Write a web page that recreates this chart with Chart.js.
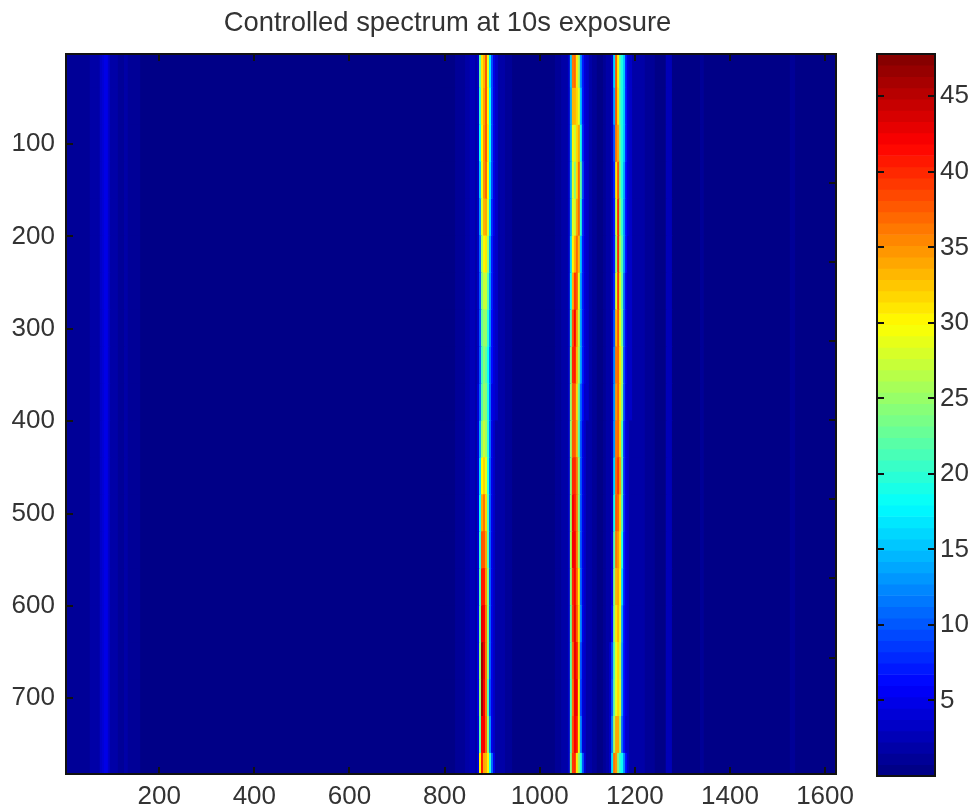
<!DOCTYPE html>
<html>
<head>
<meta charset="utf-8">
<title>Controlled spectrum at 10s exposure</title>
<script src="https://cdn.jsdelivr.net/npm/chart.js@4"></script>
<style>
  html, body { margin: 0; background: #fff; }
  canvas { position: absolute; top: 0; }
  #spectrum { left: 0; }
  #colorbar { left: 840px; }
</style>
</head>
<body>
<canvas id="spectrum" width="895" height="810"></canvas>
<canvas id="colorbar" width="135" height="810"></canvas>
<script>
const titleText = "Controlled spectrum at 10s exposure";
const xTicks = [200, 400, 600, 800, 1000, 1200, 1400, 1600];
const yTicks = [100, 200, 300, 400, 500, 600, 700];
const cbTicks = [5, 10, 15, 20, 25, 30, 35, 40, 45];
const xRange = [4, 1623];
const yRange = [2.5, 782];
const cbRange = [0, 47.8];

// centre of each image row
const rows = [20, 60, 100, 140, 180, 220, 260, 300, 340, 380, 420, 460, 500, 540, 580, 620, 660, 700, 740, 780];

// background level, same on all rows: column start and value
const bgStart = [4, 54, 71, 75, 80, 84, 88, 92, 96, 103, 113, 126, 134, 160, 790, 822, 843, 853, 910, 916, 927, 942, 1011, 1032, 1045, 1101, 1110, 1120, 1133, 1139, 1192, 1200, 1221, 1242, 1265, 1278, 1337, 1345, 1526, 1537];
const bgLevel = [1.3, 1.5, 2.2, 3.2, 4, 5, 5, 3.5, 2.2, 1.5, 1.1, 1.6, 1.1, 0.5, 0.7, 1.2, 1.8, 2.4, 2.2, 1.5, 1, 0.6, 0.7, 1.4, 2, 2, 1.2, 0.7, 1.2, 1.8, 2.2, 1.6, 1, 0.6, 2.6, 0.7, 1.1, 0.6, 1.1, 0.6];

// the three bright bands: first column of each and width of a column
const cellStep = 4.2;
const cellOverlap = 2;
const band1Start = 864;
const band2Start = 1055;
const band3Start = 1146;

const band1 = [
  [2,3,22,31,33,38,29,17,9,5,3],
  [2,3,20,31,34,38,30,18,9,5,3],
  [2,3,18,30,35,38,31,18,9,5,3],
  [2,3,15,29,35,37,30,17,9,5,3],
  [2,3,13,28,33,34,28,16,8,5,3],
  [2,3,11,26,30,31,25,14,7,4,3],
  [2,3,10,24,27,27,22,13,7,4,3],
  [2,3,10,23,25,25,20,12,6,4,3],
  [2,3,10,21,24,23,18,11,6,4,3],
  [2,4,11,22,25,24,19,11,5,4,3],
  [2,4,14,25,27,26,20,11,5,3,2],
  [2,4,16,30,32,29,20,10,5,3,2],
  [2,4,18,34,36,32,21,10,5,3,2],
  [2,4,20,38,38,34,22,10,5,3,2],
  [2,4,21,41,41,35,24,10,5,3,2],
  [2,5,23,43,42,36,24,10,5,3,2],
  [2,5,24,46,43,36,24,10,5,3,2],
  [2,5,24,46,42,36,22,9,5,3,2],
  [2,4,22,42,42,37,25,12,5,3,2],
  [2,4,30,41,34,33,30,20,11,5,2]
];
const band2 = [
  [2,3,15,36,37,31,26,13,7,4,3],
  [2,3,14,33,33,32,29,15,7,4,3],
  [2,3,14,30,27,32,34,19,8,4,3],
  [2,3,14,29,24,32,37,22,9,4,3],
  [2,3,14,29,27,34,37,20,8,4,3],
  [2,3,16,30,33,37,33,15,7,4,3],
  [2,3,18,33,39,38,29,14,7,4,3],
  [2,3,21,38,42,35,27,14,7,4,3],
  [2,3,24,40,41,33,26,14,7,4,3],
  [2,3,25,38,38,32,23,11,6,3,3],
  [2,3,25,38,38,33,22,10,5,3,2],
  [2,3,24,40,40,36,25,10,5,3,2],
  [2,3,25,42,41,36,24,10,5,3,2],
  [2,3,26,42,42,36,26,10,5,3,2],
  [2,3,24,40,42,37,30,11,5,3,2],
  [2,3,23,39,43,38,31,12,5,3,2],
  [2,3,22,37,43,41,32,10,4,3,2],
  [2,3,21,36,43,42,30,9,4,3,2],
  [2,3,22,38,42,41,30,12,4,3,2],
  [2,3,24,39,40,31,25,19,10,4,2]
];
const band3 = [
  [2,3,16,38,30,21,19,15,7,4,3],
  [2,3,14,38,31,21,19,15,7,4,3],
  [2,3,10,36,34,22,19,15,7,4,3],
  [2,3,8,31,38,23,19,14,6,4,3],
  [2,3,7,27,40,24,20,13,6,4,3],
  [2,3,7,25,40,26,21,13,6,3,3],
  [2,3,8,28,39,28,22,11,5,3,3],
  [2,3,10,33,38,29,23,10,5,3,3],
  [2,3,12,36,37,31,25,9,5,3,3],
  [2,3,13,35,37,31,24,9,4,3,3],
  [2,3,13,36,37,32,21,8,4,3,2],
  [2,3,16,37,39,34,22,8,4,3,2],
  [2,3,19,38,37,32,21,8,4,3,2],
  [2,4,22,36,35,31,19,7,4,3,2],
  [2,5,24,33,34,30,16,7,4,3,2],
  [2,6,24,31,33,29,14,6,4,3,2],
  [3,9,22,29,32,27,13,6,4,3,2],
  [3,10,23,29,32,28,13,6,4,3,2],
  [3,12,26,34,34,25,11,6,3,3,2],
  [3,17,36,35,24,20,18,12,6,3,2]
];

const LEVELS = 64;
const FONT = "'Liberation Sans', Arial, sans-serif";
const TEXT = "#333";
const INK = "#111";

// matlab jet, 64 steps
function jet(v) {
  const i = Math.max(0, Math.min(LEVELS - 1, Math.floor(v / cbRange[1] * LEVELS)));
  const t = (i + 0.5) / LEVELS * 4;
  const c = k => Math.round(255 * Math.max(0, Math.min(1, 1.5 - Math.abs(t - k))));
  return "rgb(" + c(3) + "," + c(2) + "," + c(1) + ")";
}

// background cells, each one runs a little under the next so no white seams show
const bgCells = [];
const bgColors = [];
rows.forEach(y => {
  bgStart.forEach((x, i) => {
    const end = i + 1 < bgStart.length ? bgStart[i + 1] + cellOverlap : xRange[1];
    bgCells.push({ x: [x, end], y: y });
    bgColors.push(jet(bgLevel[i]));
  });
});

// band cells
const bandCells = [];
const bandColors = [];
[[band1Start, band1], [band2Start, band2], [band3Start, band3]].forEach(([start, band]) => {
  band.forEach((row, r) => {
    row.forEach((v, c) => {
      const x = start + c * cellStep;
      bandCells.push({ x: [x, x + cellStep + cellOverlap], y: rows[r] });
      bandColors.push(jet(v));
    });
  });
});

// shared axis bits, ticks point inwards like the original
function gridOpts() {
  return { offset: false, drawOnChartArea: false, drawTicks: true, tickLength: -7, color: INK, lineWidth: 2, z: 1 };
}
function borderOpts() {
  return { display: true, color: INK, width: 2, z: 2 };
}
function fixTicks(list) {
  return scale => { scale.ticks = list.map(v => ({ value: v })); };
}
function fixWidth(w) {
  return scale => { scale.width = w; };
}
function fixHeight(h) {
  return scale => { scale.height = h; };
}
function labelOpts(padding) {
  return {
    padding: padding, color: TEXT, autoSkip: false, maxRotation: 0,
    font: { family: FONT, size: 26 },
    callback: v => String(v)
  };
}

// first dataset is painted last, so the bands go first
new Chart(document.getElementById("spectrum"), {
  type: "bar",
  data: {
    datasets: [
      { data: bandCells, backgroundColor: bandColors, inflateAmount: 0 },
      { data: bgCells, backgroundColor: bgColors, inflateAmount: 0 }
    ]
  },
  options: {
    indexAxis: "y",
    responsive: false,
    animation: false,
    datasets: { bar: { grouped: false, barPercentage: 1.04, categoryPercentage: 1 } },
    layout: { padding: 0 },
    plugins: {
      legend: { display: false },
      tooltip: { enabled: false },
      title: {
        display: true,
        text: titleText,
        color: TEXT,
        font: { family: FONT, size: 27.4, weight: "normal" },
        padding: { top: 7, bottom: 4 }
      }
    },
    scales: {
      x: {
        type: "linear", position: "bottom", min: xRange[0], max: xRange[1],
        grid: gridOpts(), border: borderOpts(), ticks: labelOpts(14),
        afterBuildTicks: fixTicks(xTicks), afterFit: fixHeight(36)
      },
      x2: {
        type: "linear", position: "top", min: xRange[0], max: xRange[1],
        grid: gridOpts(), border: borderOpts(), ticks: { display: false },
        afterBuildTicks: fixTicks(xTicks), afterFit: fixHeight(54 - 43.88)
      },
      y: {
        type: "linear", position: "left", reverse: true, min: yRange[0], max: yRange[1], offset: false,
        grid: gridOpts(), border: borderOpts(), ticks: labelOpts(18),
        afterBuildTicks: fixTicks(yTicks), afterFit: fixWidth(66)
      },
      y2: {
        type: "linear", position: "right", reverse: true, min: yRange[0], max: yRange[1],
        grid: gridOpts(), border: borderOpts(), ticks: { display: false },
        afterBuildTicks: fixTicks(yTicks), afterFit: fixWidth(59)
      }
    }
  }
});

// colour bar, one floating bar per colormap step
const cbStep = cbRange[1] / LEVELS;
const cbCells = [];
const cbColors = [];
for (let i = 0; i < LEVELS; i++) {
  cbCells.push({ x: "jet", y: [i * cbStep, (i + 1) * cbStep] });
  cbColors.push(jet((i + 0.5) * cbStep));
}

new Chart(document.getElementById("colorbar"), {
  type: "bar",
  data: {
    labels: ["jet"],
    datasets: [{ data: cbCells, backgroundColor: cbColors }]
  },
  options: {
    responsive: false,
    animation: false,
    layout: { padding: { top: 54, bottom: 34 } },
    plugins: { legend: { display: false }, tooltip: { enabled: false } },
    datasets: { bar: { grouped: false, barPercentage: 1, categoryPercentage: 1 } },
    scales: {
      x: {
        type: "category", position: "bottom",
        grid: { display: false }, border: borderOpts(), ticks: { display: false }, afterFit: fixHeight(0)
      },
      x2: {
        type: "linear", position: "top", min: 0, max: 1,
        grid: { display: false }, border: borderOpts(), ticks: { display: false }, afterFit: fixHeight(0)
      },
      y: {
        type: "linear", position: "right", min: cbRange[0], max: cbRange[1],
        grid: gridOpts(), border: borderOpts(), ticks: labelOpts(12),
        afterBuildTicks: fixTicks(cbTicks), afterFit: fixWidth(40)
      },
      y2: {
        type: "linear", position: "left", min: cbRange[0], max: cbRange[1],
        grid: gridOpts(), border: borderOpts(), ticks: { display: false },
        afterBuildTicks: fixTicks(cbTicks), afterFit: fixWidth(37)
      }
    }
  }
});
</script>
</body>
</html>
